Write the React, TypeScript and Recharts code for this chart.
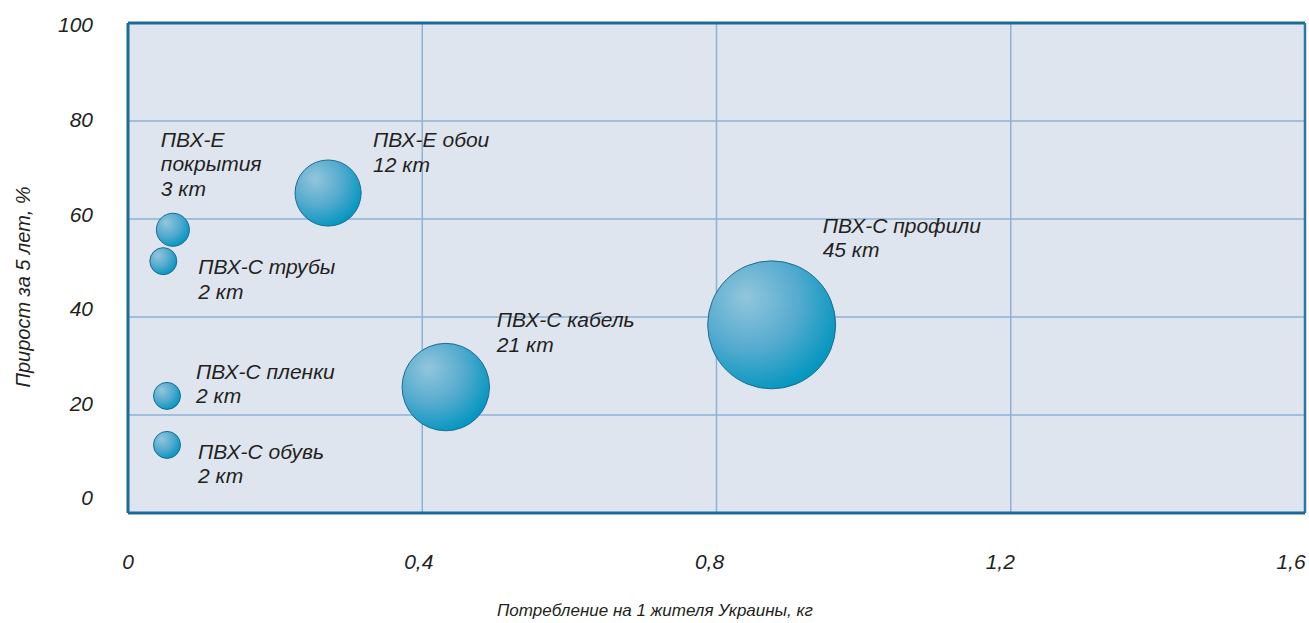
import React from 'react';
import {
  ScatterChart,
  Scatter,
  XAxis,
  YAxis,
  ZAxis,
  CartesianGrid,
  ReferenceLine,
  Label,
} from 'recharts';

// ---- data ----
const segmentNames = [
  'ПВХ-Е\nпокрытия',
  'ПВХ-С трубы',
  'ПВХ-Е обои',
  'ПВХ-С кабель',
  'ПВХ-С профили',
  'ПВХ-С пленки',
  'ПВХ-С обувь',
];
const consumptionKg = [0.061, 0.048, 0.272, 0.432, 0.875, 0.053, 0.053];
const growthPct = [57.8, 51.4, 65.3, 25.7, 38.4, 23.9, 13.9];
const volumeKt = [3, 2, 12, 21, 45, 2, 2];

const xTicks = [0, 0.4, 0.8, 1.2, 1.6];
const xTickLabels = ['0', '0,4', '0,8', '1,2', '1,6'];
const yTicks = [0, 20, 40, 60, 80, 100];

const xTitle = 'Потребление на 1 жителя Украины, кг';
const yTitle = 'Прирост за 5 лет, %';

// label placement relative to bubble centre (layout, not data)
const labelOffsets: [number, number][] = [
  [-12, -83],
  [35, 13],
  [45, -46],
  [51, -60],
  [51, -92],
  [29, -17],
  [31, 14],
];

const chartData = segmentNames.map((name, i) => ({
  name,
  x: consumptionKg[i],
  y: growthPct[i],
  z: volumeKt[i],
  idx: i,
}));

const FONT = '"Liberation Sans", Arial, Helvetica, sans-serif';
const TEXT = '#231f20';
const FRAME = '#1b6a97';

const BubbleShape = (props: any) => {
  const { cx, cy, size, payload } = props;
  const r = Math.sqrt((size || 0) / Math.PI);
  const i = payload.idx;
  const [dx, dy] = labelOffsets[i];
  const lines = [...String(payload.name).split('\n'), `${payload.z} кт`];
  return (
    <g>
      <circle cx={cx} cy={cy} r={r} fill="url(#bubbleGrad)" stroke="#1d6b90" strokeWidth={1} />
      <text
        x={cx + dx}
        y={cy + dy}
        fill={TEXT}
        fontFamily={FONT}
        fontStyle="italic"
        fontSize={21}
      >
        {lines.map((l, k) => (
          <tspan key={k} x={cx + dx} dy={k === 0 ? 0 : 24.5}>
            {l}
          </tspan>
        ))}
      </text>
    </g>
  );
};

const YTick = (props: any) => {
  const { y, payload } = props;
  const top = 23;
  const ly = top + (y - top) * 0.9653 + 2;
  return (
    <text
      x={93}
      y={ly}
      dy="0.35em"
      textAnchor="end"
      fill={TEXT}
      fontFamily={FONT}
      fontStyle="italic"
      fontSize={21}
    >
      {String(payload.value)}
    </text>
  );
};

const XTick = (props: any) => {
  const { x, payload } = props;
  const left = 128;
  const lx = left + (x - left) * (1163 / 1177);
  const idx = xTicks.indexOf(payload.value);
  return (
    <text
      x={lx}
      y={562}
      dy="0.35em"
      textAnchor="middle"
      fill={TEXT}
      fontFamily={FONT}
      fontStyle="italic"
      fontSize={21}
    >
      {idx >= 0 ? xTickLabels[idx] : String(payload.value)}
    </text>
  );
};

const XTitle = () => (
  <text
    x={655}
    y={616}
    textAnchor="middle"
    fill={TEXT}
    fontFamily={FONT}
    fontStyle="italic"
    fontSize={17}
  >
    {xTitle}
  </text>
);

const YTitle = () => (
  <text
    x={0}
    y={0}
    transform="translate(30, 287) rotate(-90)"
    textAnchor="middle"
    fill={TEXT}
    fontFamily={FONT}
    fontStyle="italic"
    fontSize={20}
  >
    {yTitle}
  </text>
);

export default function App() {
  return (
    <div style={{ position: 'absolute', left: 0, top: 0, width: 1309, height: 623, background: '#fff' }}>
      <ScatterChart
        width={1309}
        height={623}
        margin={{ top: 23, right: 4, left: 0, bottom: 0 }}
      >
        <defs>
          <radialGradient id="bubbleGrad" cx="35%" cy="33%" r="70%" fx="30%" fy="28%">
            <stop offset="0%" stopColor="#93c6dc" />
            <stop offset="55%" stopColor="#55abcf" />
            <stop offset="100%" stopColor="#0597c0" />
          </radialGradient>
        </defs>
        <CartesianGrid fill="#dfe5ef" stroke="#8fb1d4" strokeWidth={1.5} />
        <XAxis
          type="number"
          dataKey="x"
          domain={[0, 1.6]}
          ticks={xTicks}
          height={110}
          axisLine={{ stroke: FRAME, strokeWidth: 3 }}
          tickLine={false}
          tick={<XTick />}
          interval={0}
        >
          <Label content={<XTitle />} />
        </XAxis>
        <YAxis
          type="number"
          dataKey="y"
          domain={[0, 100]}
          ticks={yTicks}
          width={128}
          axisLine={{ stroke: FRAME, strokeWidth: 3 }}
          tickLine={false}
          tick={<YTick />}
          interval={0}
        >
          <Label content={<YTitle />} />
        </YAxis>
        <ZAxis type="number" dataKey="z" domain={[0, 45]} range={[0, Math.PI * 64 * 64]} />
        <ReferenceLine y={100} stroke={FRAME} strokeWidth={3} />
        <ReferenceLine x={1.6} stroke="#2a78a6" strokeWidth={2.5} />
        <Scatter data={chartData} shape={<BubbleShape />} isAnimationActive={false} />
      </ScatterChart>
    </div>
  );
}
